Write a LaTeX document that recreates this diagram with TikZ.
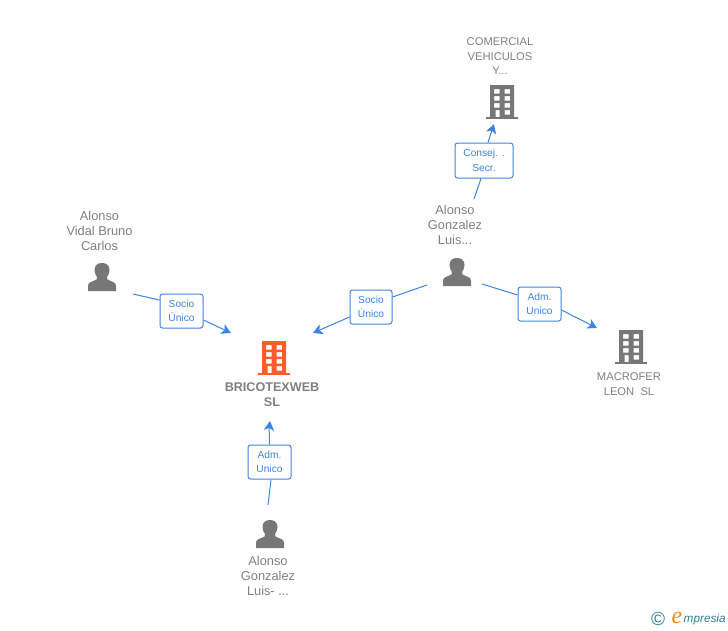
\documentclass[tikz,border=0pt]{standalone}
\usepackage{fontspec}
\setmainfont{Liberation Sans}
\newfontfamily\logoserif{Liberation Serif}
\definecolor{linkblue}{HTML}{3F84E0}
\definecolor{iconiso}{HTML}{777777}
\definecolor{hotorange}{HTML}{FF5C2E}
\definecolor{txtgray}{HTML}{808080}
\definecolor{logoteal}{HTML}{2F7F95}
\definecolor{logoorange}{HTML}{F28A1E}
\usetikzlibrary{arrows.meta}
\tikzset{
  x=1pt,y=-1pt,
  linkline/.style={draw=linkblue,line width=1pt},
  linkarrow/.style={linkline,-{Stealth[length=9.5pt,width=10.5pt,inset=2.5pt]}},
  rolebox/.style={draw=linkblue,fill=white,rounded corners=2.5pt,line width=1pt,align=center,
    text=linkblue,font=\fontsize{10.2}{14.6}\selectfont,inner sep=0pt,minimum height=34pt},
  nametext/.style={align=center,text=txtgray,font=\fontsize{12.8}{15}\selectfont,inner sep=0pt},
  smalltext/.style={align=center,text=txtgray,font=\fontsize{11.2}{14.5}\selectfont,inner sep=0pt},
  boldtext/.style={align=center,text=txtgray,font=\bfseries\fontsize{12.6}{15.5}\selectfont,inner sep=0pt},
  pics/personicon/.style={code={
    \fill[iconiso] (-14,14) -- (-14,8.5) .. controls (-14,5) and (-9,4.5) .. (-5.5,2.5)
      -- (-5,0) .. controls (-7,-3) and (-7.5,-5) .. (-7.5,-7)
      .. controls (-7.5,-12) and (-4,-14) .. (0,-14)
      .. controls (4,-14) and (7.5,-12) .. (7.5,-7)
      .. controls (7.5,-5) and (7,-3) .. (5,0)
      -- (5.5,2.5) .. controls (9,4.5) and (14,5) .. (14,8.5) -- (14,14) -- cycle;
  }},
  pics/buildicon/.style={code={
    \fill[#1,even odd rule] (-12,-17) rectangle (12,15)
      (-8,-13) rectangle (-2.5,-8.5) (2.5,-13) rectangle (8,-8.5)
      (-8,-6) rectangle (-2.5,-1.5) (2.5,-6) rectangle (8,-1.5)
      (-8,1) rectangle (-2.5,5.5) (2.5,1) rectangle (8,5.5)
      (-6.5,8) rectangle (-2.5,15) (2.5,8) rectangle (8,12.5);
    \fill[#1] (-16,14.7) rectangle (16,17);
  }},
}
\begin{document}
\begin{tikzpicture}
\useasboundingbox (0,0) rectangle (728,630);
% icons
\pic at (502,102) {buildicon=iconiso};
\pic at (631,347) {buildicon=iconiso};
\pic at (274,358) {buildicon=hotorange};
\pic at (102,277) {personicon};
\pic at (457,272) {personicon};
\pic at (270,534) {personicon};
% labels
\node[smalltext] (comercial) at (500,56.5) {COMERCIAL\\VEHICULOS\\Y...};
\node[nametext] (vidal) at (99.5,230.5) {Alonso\\Vidal Bruno\\Carlos};
\node[nametext] (luisa) at (455,224.5) {Alonso\\Gonzalez\\Luis...};
\node[nametext] (luisb) at (268,576) {Alonso\\Gonzalez\\Luis- ...};
\node[smalltext] (macrofer) at (629,384) {MACROFER\\LEON\ \ SL};
\node[boldtext] (brico) at (272,394.5) {BRICOTEXWEB\\SL};
% connector ends
\coordinate (s1) at (133,294); \coordinate (e1) at (231,333);
\coordinate (s2) at (427,285); \coordinate (e2) at (313,333);
\coordinate (s3) at (482,284); \coordinate (e3) at (597,328);
\coordinate (s4) at (474,199); \coordinate (e4) at (494,124);
\coordinate (s5) at (268,505); \coordinate (e5) at (270,421);
% role boxes
\node[rolebox,minimum width=43pt] (r1) at (181.5,311) {Socio\\Único};
\node[rolebox,minimum width=42pt] (r2) at (371,307) {Socio\\Único};
\node[rolebox,minimum width=43pt] (r3) at (539.5,304) {Adm.\\Unico};
\node[rolebox,minimum width=58pt,minimum height=35pt] (r4) at (484,160.5) {Consej. .\\Secr.};
\node[rolebox,minimum width=43pt] (r5) at (269.5,462) {Adm.\\Unico};
% connectors
\draw[linkline] (s1) -- (r1.west |- 0,300);
\draw[linkarrow] (r1.east |- 0,320) -- (e1);
\draw[linkline] (s2) -- (r2.east |- 0,297);
\draw[linkarrow] (r2.west |- 0,317) -- (e2);
\draw[linkline] (s3) -- (r3.west |- 0,295);
\draw[linkarrow] (r3.east |- 0,310) -- (e3);
\draw[linkline] (s4) -- (r4.south -| 481,0);
\draw[linkarrow] (r4.north -| 488,0) -- (e4);
\draw[linkline] (s5) -- (r5.south -| 271,0);
\draw[linkarrow] (r5.north) .. controls (269.5,436) and (269,430) .. (e5);
% logo
\node[inner sep=0pt,text=logoteal,font=\fontsize{19}{19}\selectfont] (copyr) at (658,619) {©};
\node[inner sep=0pt,text=logoorange,font=\logoserif\itshape\fontsize{24}{24}\selectfont] (logoe) at (677,618) {e};
\node[inner sep=0pt,text=logoteal,anchor=west,font=\itshape\fontsize{11.8}{14}\selectfont] (logot) at (683.5,619) {mpresia};
\end{tikzpicture}
\end{document}
